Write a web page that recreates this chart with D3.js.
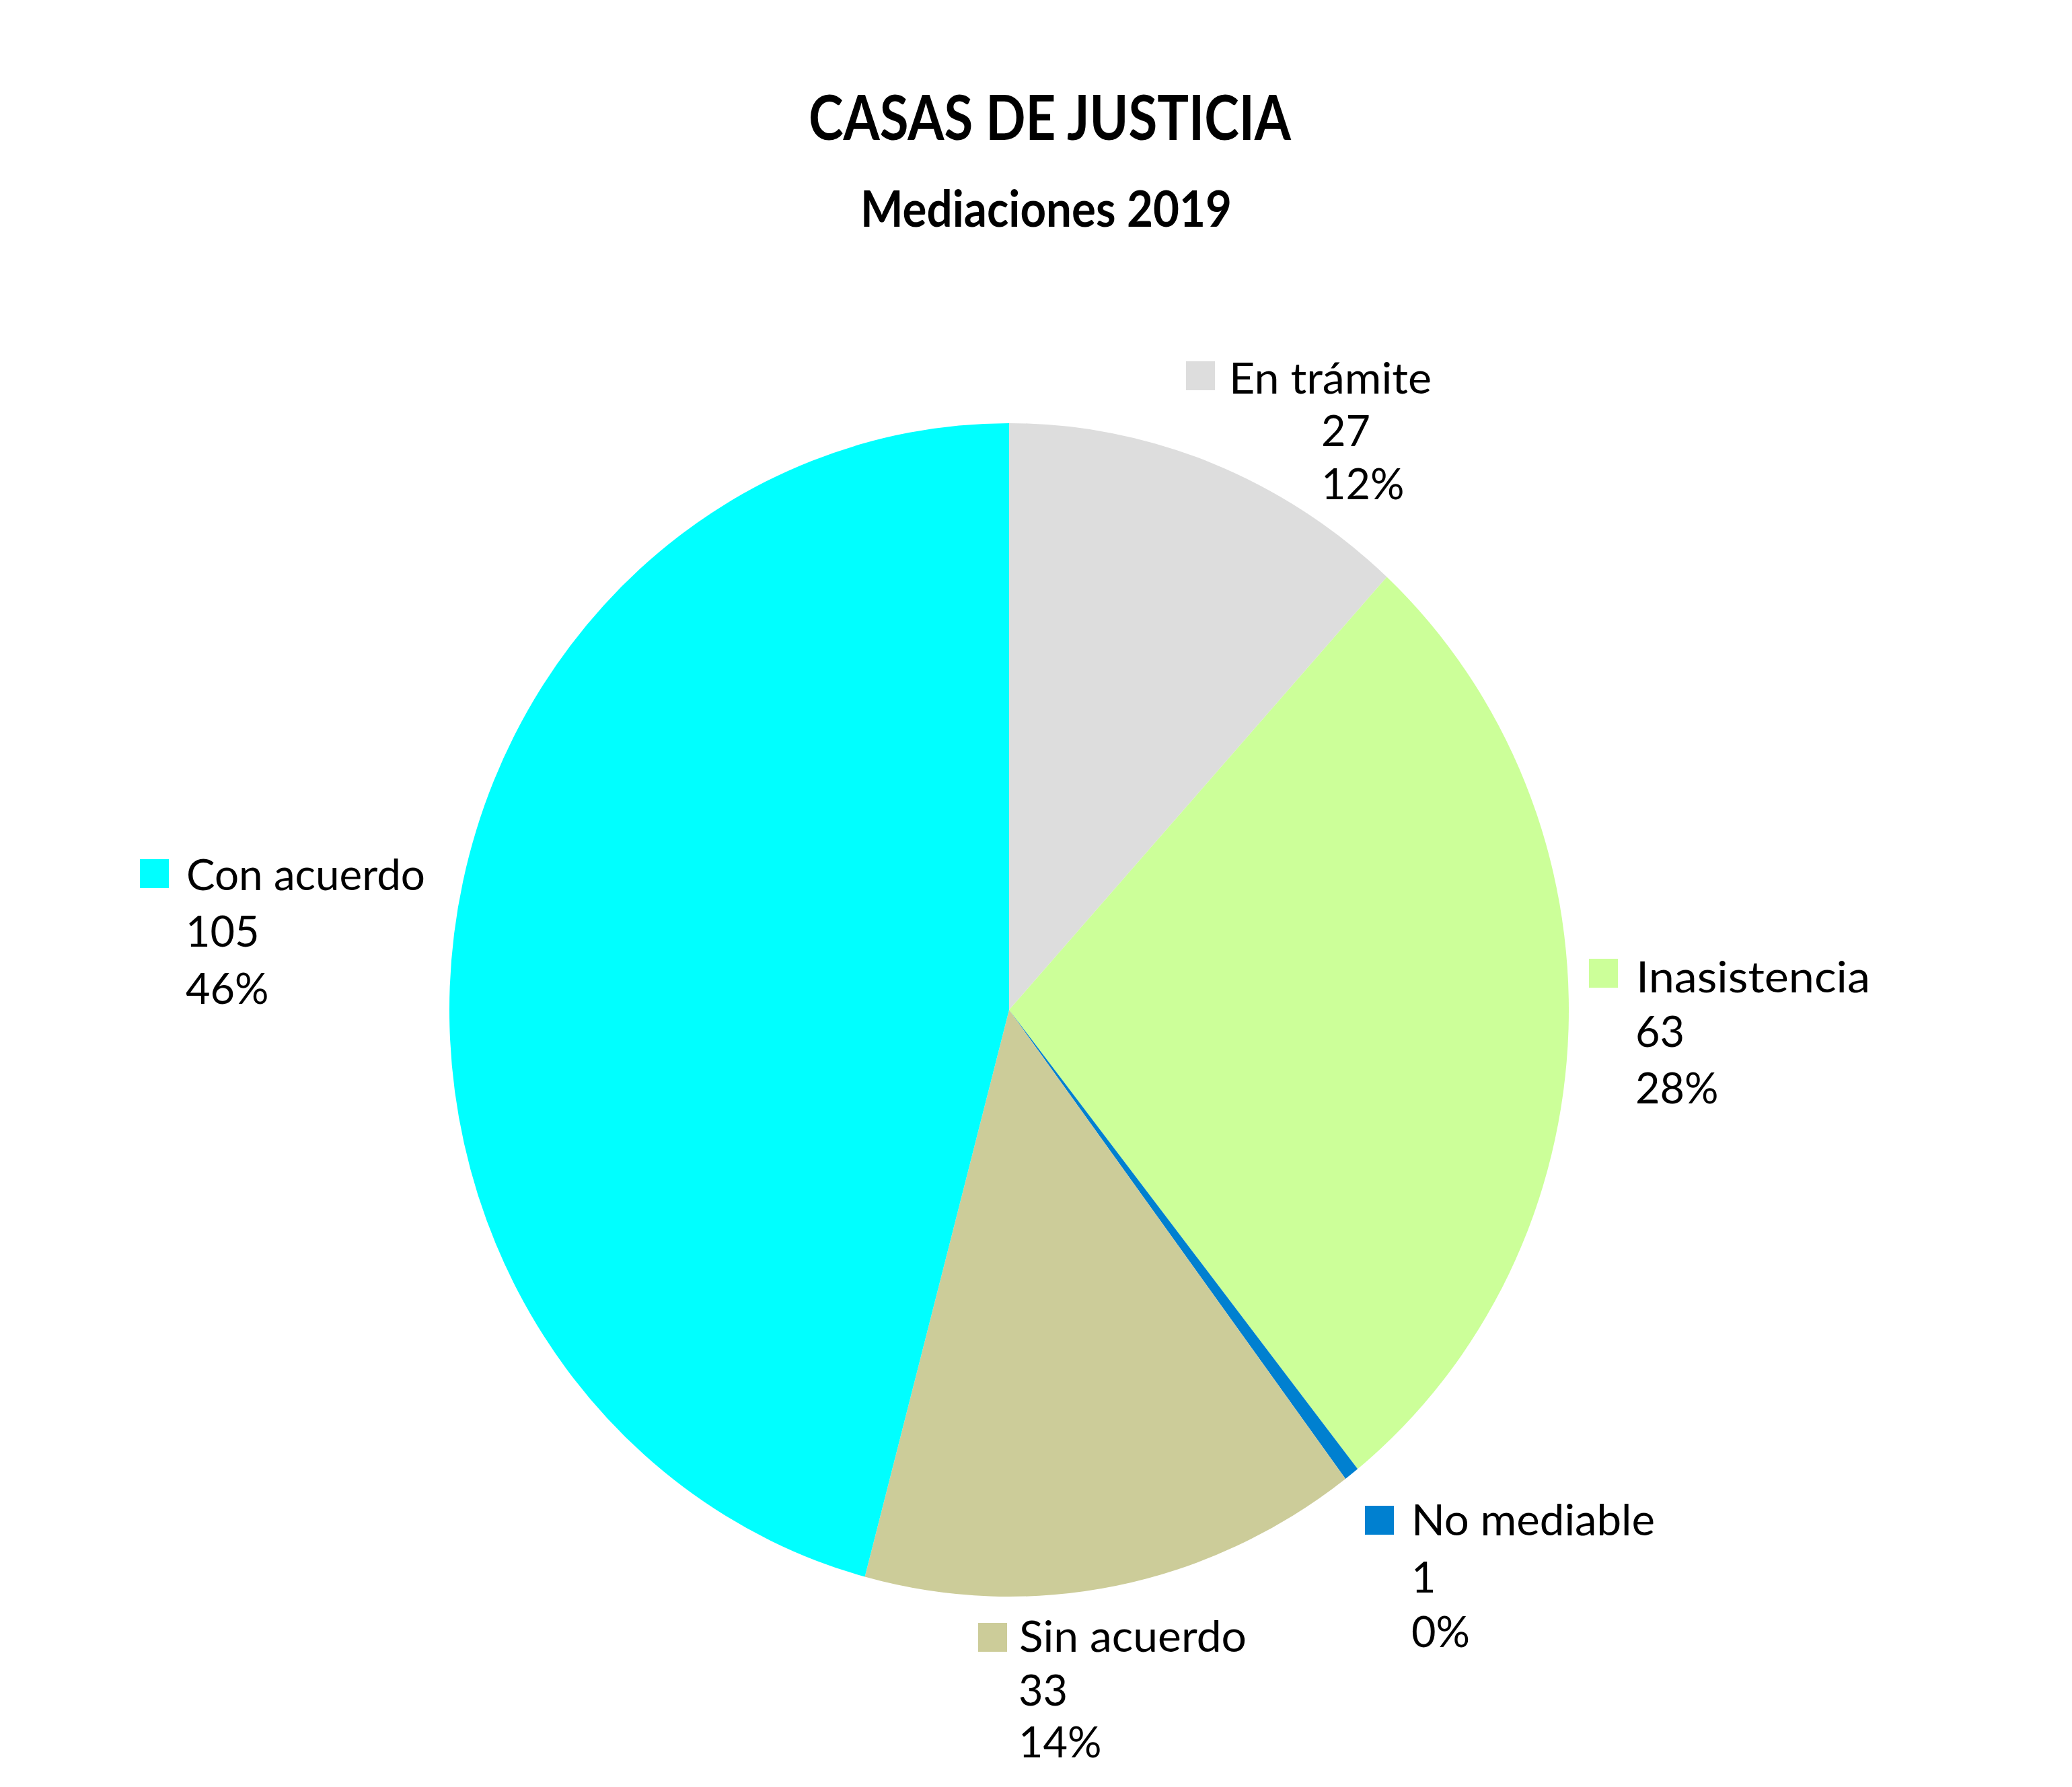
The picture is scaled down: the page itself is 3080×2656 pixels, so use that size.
<!DOCTYPE html>
<html>
<head>
<meta charset="utf-8">
<script src="https://cdn.jsdelivr.net/npm/d3@7"></script>
<style>
  html, body { margin: 0; padding: 0; background: #ffffff; }
  svg { display: block; }
  text { font-family: Lato, "Open Sans", sans-serif; fill: #000; }
</style>
</head>
<body>
<script>
// ---- data ----
const categories = ["En trámite", "Inasistencia", "No mediable", "Sin acuerdo", "Con acuerdo"];
const values = [27, 63, 1, 33, 105];
const colors = ["#DDDDDD", "#CCFF99", "#0080D0", "#CCCC99", "#00FFFF"];
const title = "CASAS DE JUSTICIA";
const subtitle = "Mediaciones 2019";

// ---- layout (label anchors: square x/y, name x/baseline, value/percent x and baselines, name width) ----
const labelLayout = [
  { sq: [1763, 537], nameX: 1827, nameY: 585, nameW: 301, numX: 1964, numY: 663, pctY: 742 },
  { sq: [2362, 1425], nameX: 2432, nameY: 1475, nameW: 348, numX: 2431, numY: 1556, pctY: 1640 },
  { sq: [2029, 2238], nameX: 2098, nameY: 2282, nameW: 362, numX: 2098, numY: 2367, pctY: 2448 },
  { sq: [1454, 2412], nameX: 1515, nameY: 2455, nameW: 338, numX: 1514, numY: 2535, pctY: 2612 },
  { sq: [208, 1277], nameX: 277, nameY: 1323, nameW: 355, numX: 276, numY: 1407, pctY: 1492 }
];

const W = 3080, H = 2656;
const cx = 1500, cy = 1501, rx = 832, ry = 872;

const svg = d3.select("body").append("svg")
  .attr("width", W).attr("height", H)
  .attr("viewBox", `0 0 ${W} ${H}`);

svg.append("rect").attr("width", W).attr("height", H).attr("fill", "#fff");

// Titles
svg.append("text")
  .attr("x", 1202).attr("y", 208)
  .attr("font-size", 92).attr("font-weight", 700)
  .attr("textLength", 717).attr("lengthAdjust", "spacingAndGlyphs")
  .text(title);
svg.append("text")
  .attr("x", 1279).attr("y", 337)
  .attr("font-size", 74).attr("font-weight", 700)
  .attr("textLength", 552).attr("lengthAdjust", "spacingAndGlyphs")
  .text(subtitle);

// Pie
const total = d3.sum(values);
const pie = d3.pie().sort(null).value(d => d)(values);
const arc = d3.arc().innerRadius(0).outerRadius(ry);

const color = d3.scaleOrdinal().domain(categories).range(colors);

svg.append("g")
  .attr("transform", `translate(${cx},${cy}) scale(${rx / ry},1)`)
  .selectAll("path")
  .data(pie)
  .join("path")
  .attr("d", arc)
  .attr("fill", (d, i) => color(categories[i]));

// Labels
const pct = d3.format(".0%");
const lab = svg.append("g").attr("font-size", 63);
categories.forEach((c, i) => {
  const L = labelLayout[i];
  lab.append("rect")
    .attr("x", L.sq[0]).attr("y", L.sq[1])
    .attr("width", 43).attr("height", 43)
    .attr("fill", color(c));
  lab.append("text")
    .attr("x", L.nameX).attr("y", L.nameY)
    .attr("textLength", L.nameW).attr("lengthAdjust", "spacingAndGlyphs")
    .text(c);
  lab.append("text")
    .attr("x", L.numX).attr("y", L.numY)
    .text(values[i]);
  lab.append("text")
    .attr("x", L.numX).attr("y", L.pctY)
    .text(pct(values[i] / total));
});
</script>
</body>
</html>
